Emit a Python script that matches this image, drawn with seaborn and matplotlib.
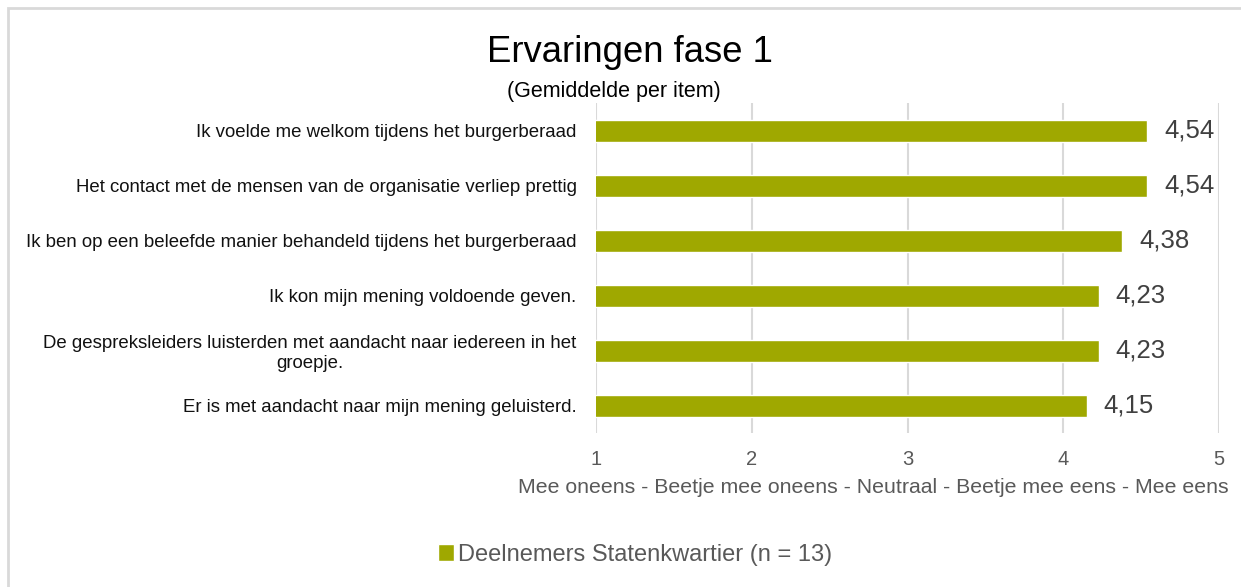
import matplotlib
matplotlib.use("Agg")
import matplotlib.pyplot as plt
import seaborn as sns
import pandas as pd
from matplotlib.patches import Rectangle

# data
items = [
    "Ik voelde me welkom tijdens het burgerberaad",
    "Het contact met de mensen van de organisatie verliep prettig",
    "Ik ben op een beleefde manier behandeld tijdens het burgerberaad",
    "Ik kon mijn mening voldoende geven.",
    "De gespreksleiders luisterden met aandacht naar iedereen in het\ngroepje.",
    "Er is met aandacht naar mijn mening geluisterd.",
]
scores = [4.54, 4.54, 4.38, 4.23, 4.23, 4.15]
value_labels = ["4,54", "4,54", "4,38", "4,23", "4,23", "4,15"]
xticks = [1, 2, 3, 4, 5]
series_name = "Deelnemers Statenkwartier (n = 13)"

df = pd.DataFrame({"item": items, "score": scores, "groep": series_name})

sns.set_theme(style="white")
plt.rcParams["font.family"] = ["Liberation Sans", "DejaVu Sans"]

bar_color = "#9FA800"
grey = "#595959"

fig = plt.figure(figsize=(12.41, 5.87), dpi=100)
ax = fig.add_axes([596 / 1241, 1 - 433 / 587, 623 / 1241, 330 / 587])

sns.barplot(data=df, y="item", x="score", hue="groep", palette=[bar_color],
            orient="h", width=0.4, ax=ax, legend=True, saturation=1)

ax.set_xlim(1, 5)
ax.set_xticks(xticks)
ax.set_xticklabels([str(t) for t in xticks], color=grey, fontsize=14.5)
ax.tick_params(axis="x", length=0, pad=12)
ax.tick_params(axis="y", length=0, pad=14)
for lab in ax.get_yticklabels():
    lab.set_fontsize(13.4)
    lab.set_color("#111111")
    lab.set_multialignment("center")
ax.set_ylabel("")
ax.set_xlabel("Mee oneens - Beetje mee oneens - Neutraal - Beetje mee eens - Mee eens",
              color=grey, fontsize=15.3)
ax.xaxis.set_label_coords((873 - 596) / 623, (433 - 478) / 330)
ax.grid(axis="x", color="#d9d9d9", linewidth=1.5)
ax.set_axisbelow(True)
for s in ax.spines.values():
    s.set_visible(False)

# value labels next to the bars
for cont in ax.containers:
    ax.bar_label(cont, labels=value_labels, padding=12, fontsize=18.5, color="#404040")

# legend at the bottom
leg = ax.legend(loc="center", bbox_to_anchor=(635 / 1241, 1 - 555 / 587),
                bbox_transform=fig.transFigure, frameon=False, fontsize=17,
                handlelength=0.7, handleheight=0.7, handletextpad=0.15)
for t in leg.get_texts():
    t.set_color(grey)

fig.text(630 / 1241, 1 - 52 / 587, "Ervaringen fase 1", ha="center", va="center",
         fontsize=26.3, color="black")
fig.text(614 / 1241, 1 - 91 / 587, "(Gemiddelde per item)", ha="center", va="center",
         fontsize=15.5, color="black")

# light border around the chart area
fig.add_artist(Rectangle((8 / 1241, -0.1), 1.2, 1 - 8 / 587 + 0.1,
                         transform=fig.transFigure, fill=False,
                         edgecolor="#d9d9d9", linewidth=2))

fig.savefig("out.png", dpi=100)
